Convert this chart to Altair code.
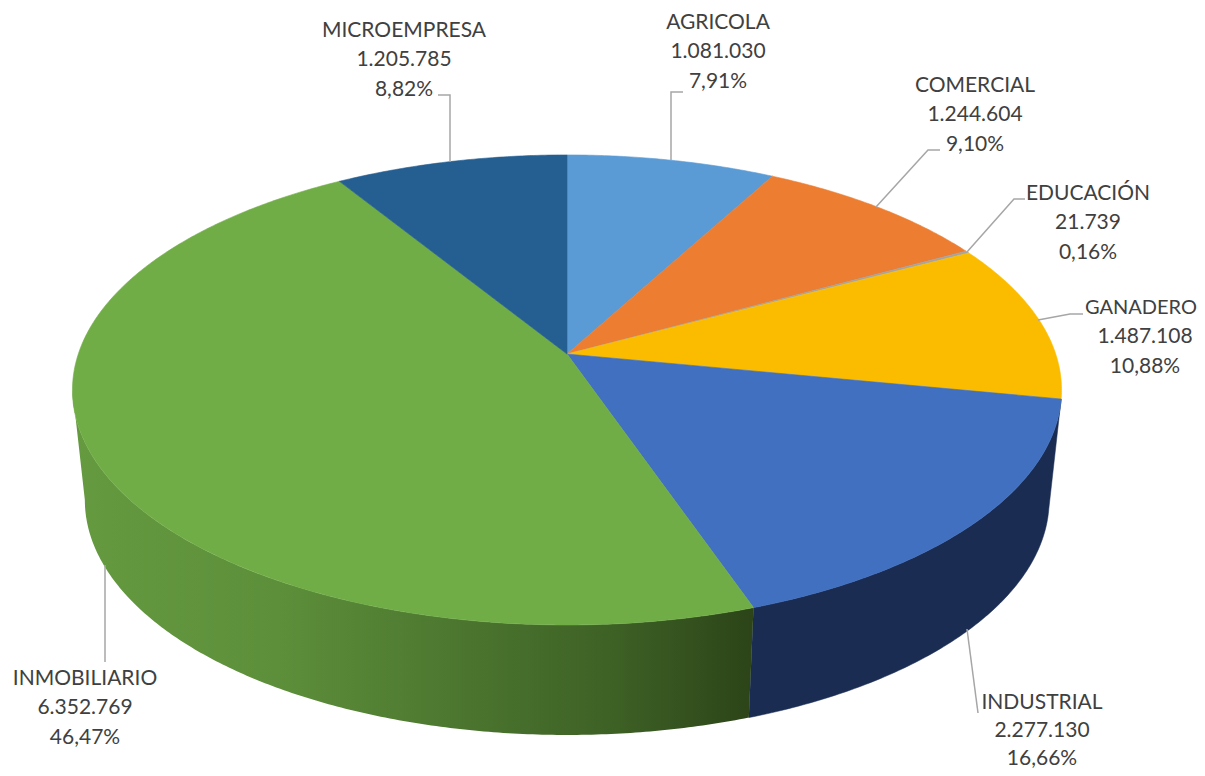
import math
import altair as alt
import pandas as pd

# --- data ---
names = ["AGRICOLA", "COMERCIAL", "EDUCACIÓN", "GANADERO", "INDUSTRIAL", "INMOBILIARIO", "MICROEMPRESA"]
values = [1081030, 1244604, 21739, 1487108, 2277130, 6352769, 1205785]
percents = ["7,91%", "9,10%", "0,16%", "10,88%", "16,66%", "46,47%", "8,82%"]
colors = ["#5b9bd5", "#ed7d31", "#a5a5a5", "#fbbc00", "#4270c0", "#70ad47", "#255e91"]

# --- style / layout ---
W, H = 1189, 760
OX, OY = 8, 8
label_cx = [718, 975, 1088, 1145, 1042, 85, 404]
label_cy = [23, 86, 194, 308, 703, 679, 31]
label_gap = [29.3, 29.3, 29.3, 29.3, 27.8, 29.3, 29.3]
name_dx = [0, 0, 0, -4, 0, 0, 0]
name_size = [21, 21, 21, 20, 21, 21, 21]
leaders = [
    [(683, 92), (671, 92), (671, 160)],
    [(940, 150), (928, 150), (876, 207)],
    [(1025, 199), (1014, 199), (967, 252)],
    [(1083, 314), (1070, 314), (1038, 320)],
    [(978, 713), (967, 629)],
    [(105, 662), (105, 565)],
    [(438, 95), (450, 95), (450, 162)],
]
CX, TOPY, DEPTH = 567, 354, 110
P, A, B, SHRINK = 0.153, 488.7, 229.5, 0.975
WALL_END = 261.2

def top_pt(deg):
    t = math.radians(deg)
    w = 1 + P * math.cos(t)
    return CX + A * math.sin(t) / w, TOPY - B * math.cos(t) / w

def bot_pt(deg):
    t = math.radians(deg)
    w = 1 + P * math.cos(t)
    return CX + SHRINK * A * math.sin(t) / w, TOPY + DEPTH - B * math.cos(t) / w

def arc_degs(a, b):
    n = max(2, int(abs(b - a) * 2))
    return [a + (b - a) * i / n for i in range(n + 1)]

xs = alt.Scale(domain=[OX, OX + W], nice=False, zero=False)
ys = alt.Scale(domain=[OY + H, OY], nice=False, zero=False)

def poly_layer(points, **mark):
    df = pd.DataFrame({"px": [p[0] for p in points], "py": [p[1] for p in points], "i": range(len(points))})
    return alt.Chart(df).mark_line(interpolate="linear", **mark).encode(
        x=alt.X("px:Q", scale=xs, axis=None),
        y=alt.Y("py:Q", scale=ys, axis=None),
        order="i:Q",
    )

total = sum(values)
edges = [0.0]
for v in values:
    edges.append(edges[-1] + 360.0 * v / total)

layers = []

# side walls: industrial and inmobiliario are the only visible ones
wall_fill = alt.LinearGradient(
    gradient="linear", x1=0, x2=1, y1=0, y2=0,
    stops=[
        alt.GradientStop(color="#659a40", offset=0),
        alt.GradientStop(color="#5d8f3a", offset=0.3),
        alt.GradientStop(color="#4d7830", offset=0.55),
        alt.GradientStop(color="#3d6025", offset=0.8),
        alt.GradientStop(color="#2c4418", offset=1),
    ],
)
i_ind, i_inm = 4, 5
d = arc_degs(edges[i_ind], edges[i_ind + 1])
pts = [top_pt(a) for a in d] + [bot_pt(a) for a in reversed(d)]
layers.append(poly_layer(pts + pts[:1], fill="#1a2c52", stroke="#1a2c52", strokeWidth=0.5))
d = arc_degs(edges[i_inm], WALL_END)
pts = [top_pt(a) for a in d] + [bot_pt(a) for a in reversed(d)]
layers.append(poly_layer(pts + pts[:1], fill=wall_fill, strokeWidth=0))

# top face
for k, c in enumerate(colors):
    d = arc_degs(edges[k], edges[k + 1])
    pts = [(CX, TOPY)] + [top_pt(a) for a in d] + [(CX, TOPY)]
    layers.append(poly_layer(pts, fill=c, stroke=c, strokeWidth=0.6))

# leader lines
for seg in leaders:
    layers.append(poly_layer(seg, stroke="#a6a6a6", strokeWidth=1.5))

# labels
rows = []
for n, v, p, cx, cy, g, dx, fs in zip(names, values, percents, label_cx, label_cy, label_gap, name_dx, name_size):
    rows.append({"px": cx + dx, "py": cy, "t": n, "fs": fs})
    rows.append({"px": cx, "py": cy + g, "t": f"{v:,}".replace(",", "."), "fs": 21})
    rows.append({"px": cx, "py": cy + 2 * g, "t": p, "fs": 21})
layers.append(
    alt.Chart(pd.DataFrame(rows)).mark_text(
        font="Lato", color="#404040", align="center", baseline="middle"
    ).encode(
        x=alt.X("px:Q", scale=xs, axis=None),
        y=alt.Y("py:Q", scale=ys, axis=None),
        text="t:N",
        size=alt.Size("fs:Q", scale=None, legend=None),
    )
)

chart = alt.layer(*layers).properties(
    width=W, height=H, padding=0, background="white",
    autosize=alt.AutoSizeParams(type="none"),
).configure_view(stroke=None)

chart.save("out.html", embed_options={"renderer": "svg", "actions": False})
